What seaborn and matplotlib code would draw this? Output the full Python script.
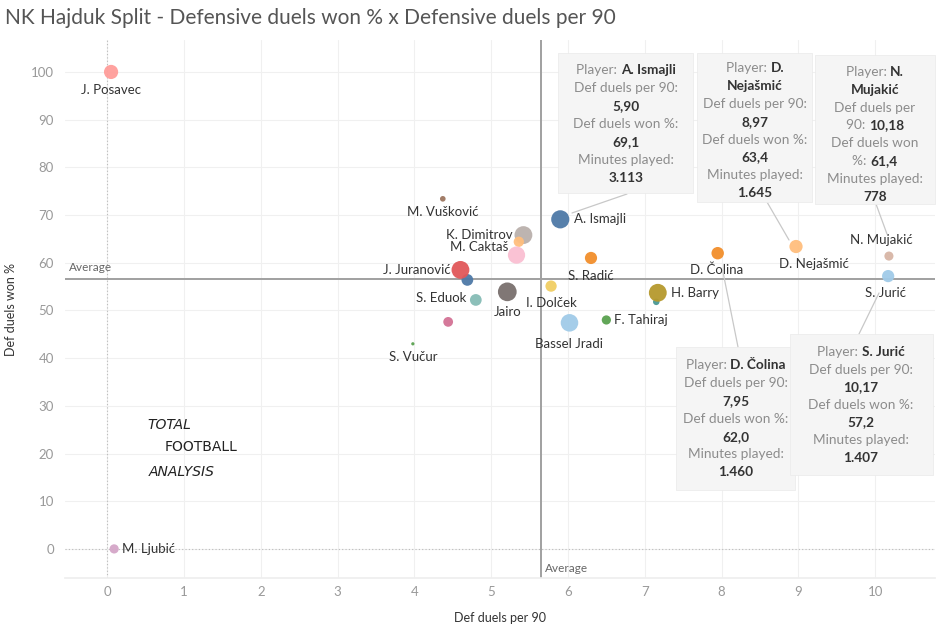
import numpy as np
import pandas as pd
import matplotlib
matplotlib.use("Agg")
import matplotlib.pyplot as plt
from matplotlib.patches import FancyBboxPatch
import seaborn as sns

# ---------------- data ----------------
players = ["J. Posavec", "M. Ljubić", "M. Vušković", "K. Dimitrov", "P1",
           "M. Caktaš", "A. Ismajli", "S. Radić", "P2", "J. Juranović",
           "I. Dolček", "Jairo", "S. Eduok", "P3", "S. Vučur",
           "Bassel Jradi", "F. Tahiraj", "P4", "H. Barry", "D. Čolina",
           "D. Nejašmić", "N. Mujakić", "S. Jurić"]
labels = ["J. Posavec", "M. Ljubić", "M. Vušković", "K. Dimitrov", "",
          "M. Caktaš", "A. Ismajli", "S. Radić", "", "J. Juranović",
          "I. Dolček", "Jairo", "S. Eduok", "", "S. Vučur",
          "Bassel Jradi", "F. Tahiraj", "", "H. Barry", "D. Čolina",
          "D. Nejašmić", "N. Mujakić", "S. Jurić"]
def_duels_per90 = [0.05, 0.09, 4.37, 5.42, 5.36, 5.33, 5.90, 6.30, 4.69, 4.60,
                   5.78, 5.21, 4.80, 4.44, 3.98, 6.02, 6.50, 7.15, 7.17, 7.95,
                   8.97, 10.18, 10.17]
def_duels_won = [100.0, 0.0, 73.4, 65.8, 64.4, 61.6, 69.1, 61.0, 56.4, 58.5,
                 55.1, 53.9, 52.2, 47.6, 43.0, 47.4, 48.0, 51.8, 53.7, 62.0,
                 63.4, 61.4, 57.2]
minutes_played = [1900, 800, 300, 3000, 1000, 2800, 3113, 1400, 1300, 3000,
                  1200, 3300, 1300, 900, 100, 2900, 800, 400, 3000, 1460,
                  1645, 778, 1407]
colors = ["#ff9d9a", "#d4a6c8", "#9d7660", "#bab0ac", "#ffbe7d",
          "#fabfd2", "#4e79a7", "#f28e2b", "#4e79a7", "#e15759",
          "#f1ce63", "#79706e", "#86bcb6", "#d37295", "#59a14f",
          "#a0cbe8", "#59a14f", "#499894", "#b6992d", "#f28e2b",
          "#ffbe7d", "#d7b5a6", "#a0cbe8"]
x_ticks = [0, 1, 2, 3, 4, 5, 6, 7, 8, 9, 10]
y_ticks = [0, 10, 20, 30, 40, 50, 60, 70, 80, 90, 100]
avg_per90 = 5.65
avg_won = 56.6
title = "NK Hajduk Split - Defensive duels won % x Defensive duels per 90"

df = pd.DataFrame({"player": players, "label": labels, "x": def_duels_per90,
                   "y": def_duels_won, "minutes": minutes_played})

# ---------------- style ----------------
sns.set_theme(style="white")
plt.rcParams["font.family"] = ["Lato", "DejaVu Sans"]

W, H = 951, 630
fig = plt.figure(figsize=(W / 100, H / 100), dpi=100)
L, R, T, B = 65, 935, 40, 578
ax = fig.add_axes([L / W, 1 - B / H, (R - L) / W, (B - T) / H])

k = 0.055
sns.scatterplot(data=df, x="x", y="y", hue="player",
                palette=dict(zip(players, colors)), size="minutes",
                sizes=(min(minutes_played) * k, max(minutes_played) * k),
                legend=False, linewidth=0, alpha=0.95, ax=ax, zorder=3)

ax.set_xlim(-0.55, 10.78)
ax.set_ylim(-6.1, 106.7)
ax.set_xticks(x_ticks)
ax.set_yticks(y_ticks)
ax.tick_params(axis="both", colors="#999999", labelsize=9.5, length=0, pad=6)
ax.tick_params(axis="y", length=4, color="#e0e0e0", direction="out", pad=4)
for s in ["top", "right", "left"]:
    ax.spines[s].set_visible(False)
ax.spines["bottom"].set_color("#eeeeee")
ax.grid(True, color="#f0f0f0", linewidth=0.8, zorder=0)
ax.set_axisbelow(True)

ax.set_xlabel("Def duels per 90", fontsize=9, color="#333333", labelpad=10)
ax.set_ylabel("Def duels won %", fontsize=9, color="#333333", labelpad=10)

# zero reference lines (dotted)
ax.axvline(0, color="#bbbbbb", lw=0.8, ls=(0, (1, 2)), zorder=1)
ax.axhline(0, color="#bbbbbb", lw=0.8, ls=(0, (1, 2)), zorder=1)
# averages
ax.axvline(avg_per90, color="#a0a0a0", lw=1.4, zorder=2)
ax.axhline(avg_won, color="#a0a0a0", lw=1.4, zorder=2)
ax.annotate("Average", xy=(0, avg_won), xycoords=("axes fraction", "data"),
            xytext=(3, 4), textcoords="offset points", fontsize=8.5,
            color="#666666", va="bottom", ha="left")
ax.annotate("Average", xy=(avg_per90, 0), xycoords=("data", "axes fraction"),
            xytext=(3, 3), textcoords="offset points", fontsize=8.5,
            color="#666666", va="bottom", ha="left")

# point labels: (dx, dy in pixels, positive = up, ha)
offsets = {
    "J. Posavec": (0, -18, "center"), "M. Ljubić": (8, 0, "left"),
    "M. Vušković": (0, -13, "center"), "A. Ismajli": (14, 0, "left"),
    "K. Dimitrov": (-11, 0, "right"), "M. Caktaš": (-8, 8, "right"),
    "S. Radić": (0, -18, "center"), "J. Juranović": (-10, 0, "right"),
    "I. Dolček": (0, -17, "center"), "Jairo": (0, -20, "center"),
    "S. Eduok": (-9, 2, "right"), "S. Vučur": (0, -13, "center"),
    "Bassel Jradi": (0, -21, "center"), "F. Tahiraj": (8, 0, "left"),
    "H. Barry": (13, 0, "left"), "D. Čolina": (-1, -17, "center"),
    "D. Nejašmić": (18, -17, "center"), "N. Mujakić": (-8, 16, "center"),
    "S. Jurić": (-3, -17, "center"),
}
for lab, xv, yv in zip(labels, def_duels_per90, def_duels_won):
    if not lab:
        continue
    dx, dy, ha = offsets[lab]
    ax.annotate(lab, xy=(xv, yv), xytext=(dx, dy), textcoords="offset pixels",
                fontsize=9.5, color="#333333", ha=ha, va="center", zorder=5)

# ---------------- tooltips ----------------
renderer = fig.canvas.get_renderer()
GRAY, DARK = "#8c8c8c", "#333333"


def fmt2(v):
    return f"{v:.2f}".replace(".", ",")


def fmt1(v):
    return f"{v:.1f}".replace(".", ",")


def fmtmin(v):
    return f"{v:,}".replace(",", ".")


def draw_line(cx, y, parts, size=9.8):
    texts = []
    total = 0
    for txt, weight, col in parts:
        t = fig.text(0, 0, txt, fontsize=size, fontweight=weight, color=col,
                     ha="left", va="center", zorder=10)
        w = t.get_window_extent(renderer).width
        texts.append((t, w))
        total += w
    x0 = cx - total / 2
    for t, w in texts:
        t.set_position((x0 / W, 1 - y / H))
        x0 += w


def box(x0, y0, x1, y1):
    p = FancyBboxPatch((x0 / W, 1 - y1 / H), (x1 - x0) / W, (y1 - y0) / H,
                       boxstyle="square,pad=0", transform=fig.transFigure,
                       facecolor="#f5f5f5", edgecolor="#ececec", lw=0.6,
                       zorder=8)
    fig.patches.append(p)


def leader(p0, p1):
    fig.add_artist(plt.Line2D([p0[0] / W, p1[0] / W], [1 - p0[1] / H, 1 - p1[1] / H],
                              color="#c8c8c8", lw=0.9, zorder=7))


info = {p: (x, y, m) for p, x, y, m in zip(players, def_duels_per90, def_duels_won, minutes_played)}

n, b = "normal", "bold"

# A. Ismajli
xv, yv, mv = info["A. Ismajli"]
box(558, 53, 693, 193)
leader((627, 194), (572, 213))
rows = [[("Player: ", n, GRAY), ("A. Ismajli", b, DARK)],
        [("Def duels per 90:", n, GRAY)], [(fmt2(xv), b, DARK)],
        [("Def duels won %:", n, GRAY)], [(fmt1(yv), b, DARK)],
        [("Minutes played:", n, GRAY)], [(fmtmin(mv), b, DARK)]]
for i, r in enumerate(rows):
    draw_line(626, 70 + i * 18, r)

# D. Nejašmić
xv, yv, mv = info["D. Nejašmić"]
box(697, 53, 812, 202)
leader((767, 202), (789, 240))
rows = [[("Player: ", n, GRAY), ("D.", b, DARK)], [("Nejašmić", b, DARK)],
        [("Def duels per 90:", n, GRAY)], [(fmt2(xv), b, DARK)],
        [("Def duels won %:", n, GRAY)], [(fmt1(yv), b, DARK)],
        [("Minutes played:", n, GRAY)], [(fmtmin(mv), b, DARK)]]
for i, r in enumerate(rows):
    draw_line(755, 68 + i * 17.9, r)

# N. Mujakić
xv, yv, mv = info["N. Mujakić"]
box(815, 55, 935, 204)
leader((876, 204), (887, 234))
rows = [[("Player: ", n, GRAY), ("N.", b, DARK)], [("Mujakić", b, DARK)],
        [("Def duels per", n, GRAY)], [("90: ", n, GRAY), (fmt2(xv), b, DARK)],
        [("Def duels won", n, GRAY)], [("%: ", n, GRAY), (fmt1(yv), b, DARK)],
        [("Minutes played:", n, GRAY)], [(fmtmin(mv), b, DARK)]]
for i, r in enumerate(rows):
    draw_line(875, 72 + i * 17.8, r)

# D. Čolina
xv, yv, mv = info["D. Čolina"]
box(676, 347, 795, 490)
leader((738, 347), (723, 272))
rows = [[("Player: ", n, GRAY), ("D. Čolina", b, DARK)],
        [("Def duels per 90:", n, GRAY)], [(fmt2(xv), b, DARK)],
        [("Def duels won %:", n, GRAY)], [(fmt1(yv), b, DARK)],
        [("Minutes played:", n, GRAY)], [(fmtmin(mv), b, DARK)]]
for i, r in enumerate(rows):
    draw_line(736, 365 + i * 17.9, r)

# S. Jurić
xv, yv, mv = info["S. Jurić"]
box(790, 334, 933, 475)
leader((859, 334), (879, 293))
rows = [[("Player: ", n, GRAY), ("S. Jurić", b, DARK)],
        [("Def duels per 90:", n, GRAY)], [(fmt2(xv), b, DARK)],
        [("Def duels won %:", n, GRAY)], [(fmt1(yv), b, DARK)],
        [("Minutes played:", n, GRAY)], [(fmtmin(mv), b, DARK)]]
for i, r in enumerate(rows):
    draw_line(861, 352 + i * 17.6, r)

# ---------------- logo text ----------------
logo_font = ["DejaVu Sans Condensed", "DejaVu Sans"]
fig.text(147 / W, 1 - 425 / H, "TOTAL", fontsize=10, fontstyle="italic",
         color="#222222", ha="left", va="center", family=logo_font)
fig.text(165 / W, 1 - 447 / H, "FOOTBALL", fontsize=10, color="#222222",
         ha="left", va="center", family=logo_font)
fig.text(149 / W, 1 - 472 / H, "ANALYSIS", fontsize=10, fontstyle="italic",
         color="#222222", ha="left", va="center", family=logo_font)

# ---------------- title ----------------
fig.text(5 / W, 1 - 18 / H, title, fontsize=15, color="#555555", ha="left", va="center")

fig.savefig("out.png", dpi=100, facecolor="white")
